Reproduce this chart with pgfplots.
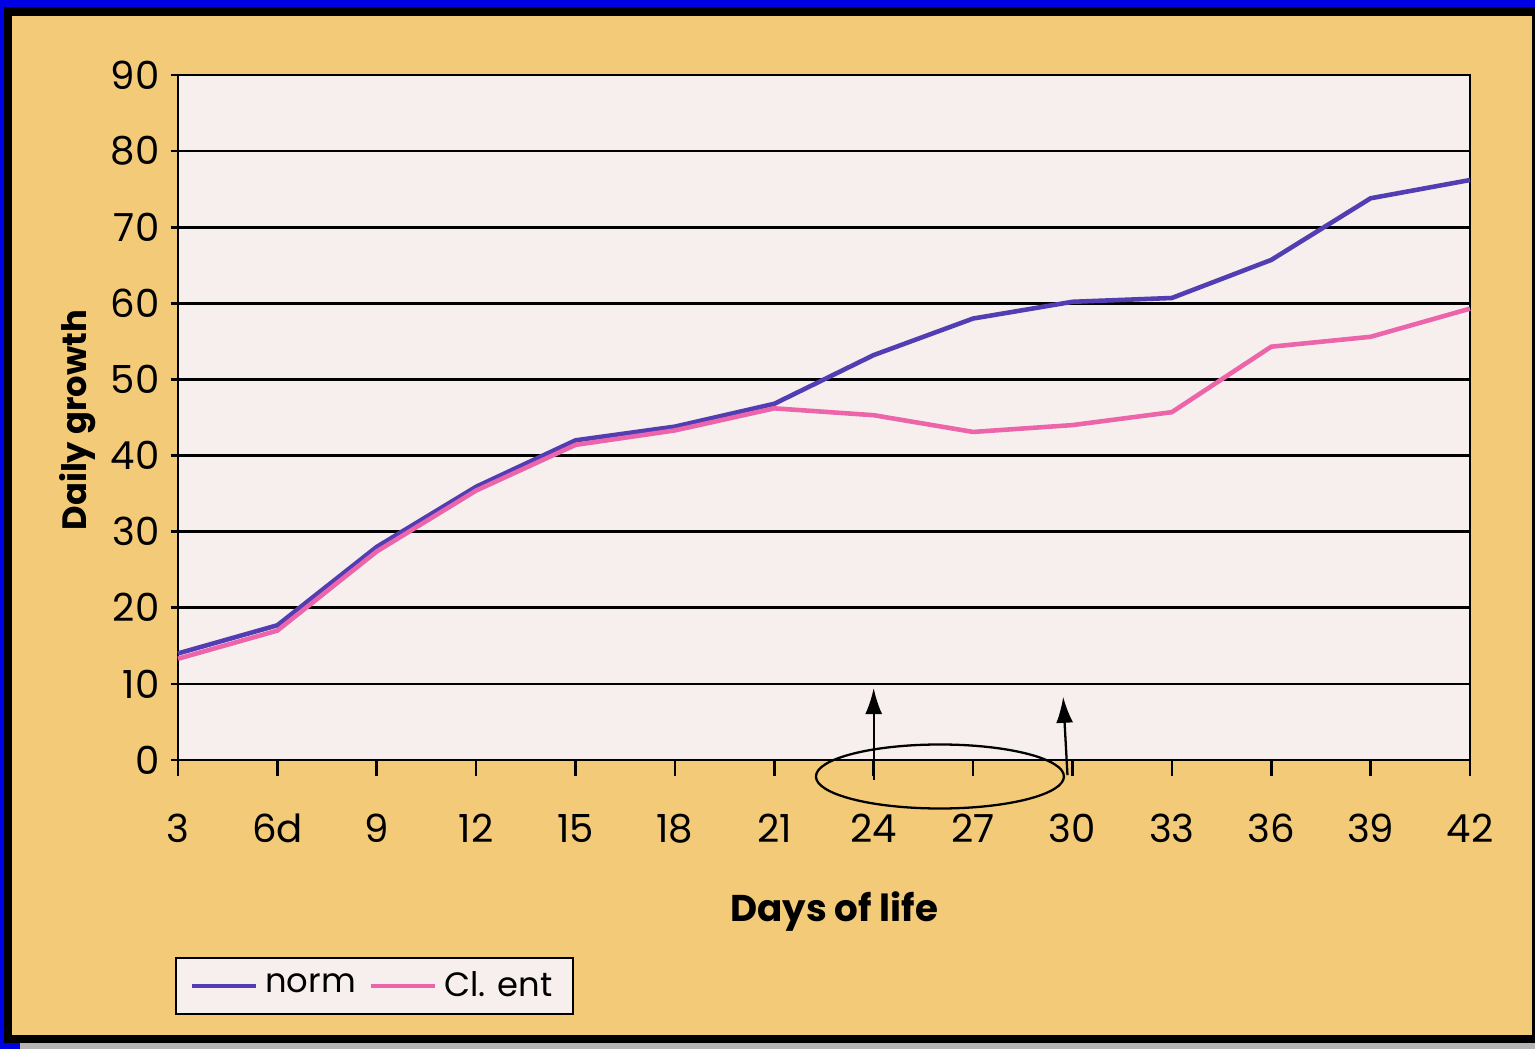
\documentclass[border=0pt]{standalone}
\usepackage{pgfplots}
\pgfplotsset{compat=1.18}
\usepackage{fontspec}
\setmainfont{Poppins}
\usetikzlibrary{arrows.meta}
\definecolor{frameblue}{RGB}{0,0,228}
\definecolor{bgorange}{RGB}{243,202,120}
\definecolor{plotbg}{RGB}{246,239,237}
\definecolor{normc}{RGB}{82,62,178}
\definecolor{clent}{RGB}{236,100,170}
\definecolor{greystrip}{RGB}{180,180,180}
\begin{document}
\begin{tikzpicture}[x=1cm,y=1cm]
\fill[frameblue] (0,0) rectangle (15.35,10.49);
\fill[black] (0.04,0.06) rectangle (15.35,10.42);
\fill[greystrip] (0.20,0) rectangle (15.35,0.06);
\fill[bgorange] (0.12,0.14) rectangle (15.32,10.33);
\begin{axis}[
  at={(1.78cm,2.89cm)}, anchor=south west,
  scale only axis, width=12.92cm, height=6.85cm,
  xmin=3, xmax=42, ymin=0, ymax=90,
  xtick={3,6,...,42},
  xticklabels={3,6d,9,12,15,18,21,24,27,30,33,36,39,42},
  ytick={0,10,...,90},
  xtick pos=lower, ytick pos=left,
  ymajorgrids,
  grid style={black, line width=0.75pt},
  axis line style={black, line width=0.75pt},
  axis background/.style={fill=plotbg},
  tick align=outside, major tick length=0.07cm,
  tick style={black, line width=0.75pt},
  /pgf/number format/assume math mode=true,
  xticklabel style={font=\fontsize{11}{13}\selectfont, anchor=base, inner sep=0pt, yshift=-0.76cm},
  yticklabel style={font=\fontsize{11}{13}\selectfont, anchor=east, inner sep=0pt, xshift=-0.11cm},
  xlabel={\textbf{Days of life}},
  xlabel style={font=\fontsize{10.6}{13}\selectfont, at={(axis description cs:0.508,-0.2365)}, anchor=base},
  ylabel={\textbf{Daily growth}},
  ylabel style={font=\fontsize{9.6}{12}\selectfont, at={(axis description cs:-0.0775,0.496)}, anchor=center},
  clip=false,
  legend columns=2,
  legend style={at={(axis description cs:-0.0023,-0.2876)}, anchor=north west,
    fill=plotbg, draw=black, line width=0.6pt, font=\fontsize{9.6}{11}\selectfont,
    inner xsep=0.14cm, inner ysep=0.06cm,
    /tikz/every even column/.append style={column sep=0.06cm}},
  legend image code/.code={\draw[#1, line width=1.2pt] (0cm,0cm) -- (0.64cm,0cm);},
]
\addplot[normc, line width=1.3pt, mark=none] coordinates {
(3,14.0) (6,17.7) (9,28.0) (12,35.9) (15,42.0) (18,43.8) (21,46.8)
(24,53.2) (27,58.0) (30,60.2) (33,60.7) (36,65.7) (39,73.8) (42,76.2)};
\addlegendentry{norm}
\addplot[clent, line width=1.3pt, mark=none] coordinates {
(3,13.3) (6,17.0) (9,27.4) (12,35.4) (15,41.4) (18,43.3) (21,46.2)
(24,45.3) (27,43.1) (30,44.0) (33,45.7) (36,54.3) (39,55.6) (42,59.3)};
\addlegendentry{Cl. ent}
\pgfplotsinvokeforeach{3,6,9,12,15,18,21,24,27,30,33,36,39,42}{
  \draw[black, line width=0.75pt] (axis cs:#1,0) -- (axis cs:#1,-2.1);
}
\draw[line width=0.65pt, -{Latex[length=0.26cm,width=0.17cm]}] (axis cs:24,-2.6) -- (axis cs:24,9.45);
\draw[line width=0.65pt, -{Latex[length=0.26cm,width=0.17cm]}] (axis cs:29.85,-2.0) -- (axis cs:29.72,8.3);
\draw[line width=0.65pt] (axis cs:26,-2.17) ellipse [x radius=1.24cm, y radius=0.32cm];
\end{axis}
\end{tikzpicture}
\end{document}
